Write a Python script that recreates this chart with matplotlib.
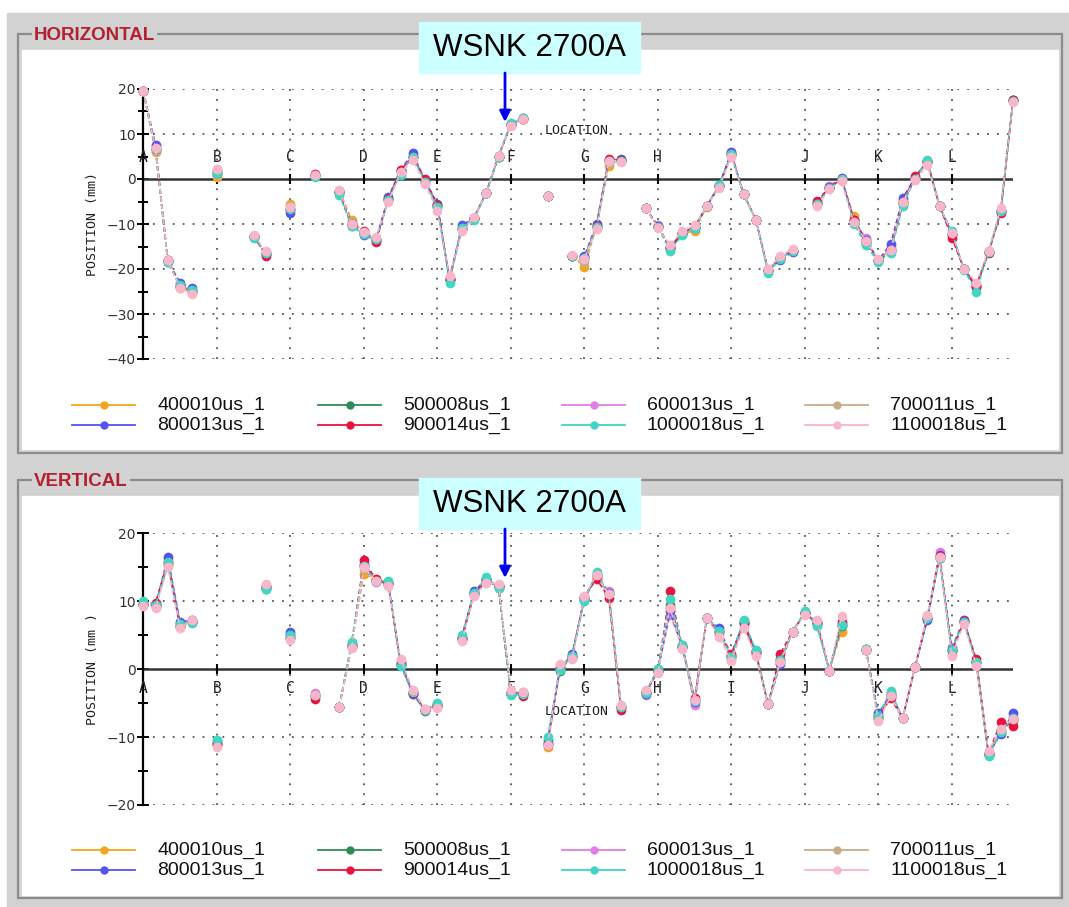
import numpy as np
import matplotlib
matplotlib.use('Agg')
import matplotlib.pyplot as plt
from matplotlib.patches import Rectangle

W, H = 1069, 907

names = ['400010us_1', '500008us_1', '600013us_1', '700011us_1',
         '800013us_1', '900014us_1', '1000018us_1', '1100018us_1']
colors = ['#f2a51c', '#2e8b57', '#e07ee6', '#c9ab88',
          '#5454ee', '#e8143f', '#3fd6c2', '#f7b6c9']
letters = list('ABCDEFGHIJKL')
n_slot = 72          # monitor positions, 6 between two letters

# ---- HORIZONTAL : positions where a reading exists ----
h_slot = [0, 1, 2, 3, 4, 6, 9, 10, 12, 14, 16, 17, 18, 19, 20, 21, 22, 23, 24, 25,
          26, 27, 28, 29, 30, 31, 33, 35, 36, 37, 38, 39, 41, 42, 43, 44, 45, 46, 47,
          48, 49, 50, 51, 52, 53, 55, 56, 57, 58, 59, 60, 61, 62, 63, 64, 65, 66, 67,
          68, 69, 70, 71]
h_400010 = [19.5, 6.0, -18.0, -24.2, -25.0, 0.5, -12.8, -16.5, -5.5, 1.0, -2.6, -9.0, -12.0,
            -13.5, -4.6, 1.8, 4.8, -0.6, -6.0, -22.2, -11.0, -8.6, -3.1, 5.0, 12.0, 13.3,
            -3.7, -17.0, -19.5, -10.6, 3.0, 4.0, -6.5, -10.5, -15.0, -12.3, -11.5, -6.2,
            -1.6, 5.4, -3.3, -9.0, -20.2, -17.5, -16.0, -5.5, -2.0, 0.0, -8.3, -13.9, -18.0,
            -15.5, -5.0, 0.2, 3.8, -6.0, -12.2, -20.0, -23.6, -16.2, -7.0, 17.5]
h_500008 = [19.5, 6.6, -18.4, -23.8, -24.8, 1.2, -12.9, -16.6, -6.6, 0.7, -3.2, -10.4, -12.3,
            -13.6, -4.5, 1.5, 5.0, -0.4, -6.0, -22.5, -11.0, -8.8, -3.0, 5.0, 12.3, 13.5,
            -3.8, -17.0, -17.8, -10.6, 4.1, 4.0, -6.5, -10.6, -15.6, -12.3, -10.6, -6.1,
            -1.4, 5.5, -3.3, -9.0, -20.5, -17.6, -16.0, -5.4, -2.0, 0.0, -9.6, -14.5, -18.3,
            -16.0, -5.6, 0.1, 4.1, -6.0, -12.2, -20.1, -24.2, -16.2, -7.0, 17.5]
h_600013 = [19.5, 7.3, -18.2, -23.5, -24.6, 1.5, -12.6, -16.5, -7.0, 0.9, -2.8, -10.0, -12.2,
            -13.4, -4.2, 1.8, 5.3, -0.5, -5.8, -22.0, -10.6, -8.6, -3.0, 5.1, 12.1, 13.4,
            -3.8, -17.1, -17.4, -10.3, 4.2, 4.3, -6.4, -10.3, -15.2, -12.0, -10.6, -6.0,
            -1.5, 5.9, -3.4, -9.0, -20.2, -17.6, -16.0, -5.3, -1.5, 0.2, -9.2, -13.2, -18.0,
            -15.0, -4.6, 0.2, 3.9, -6.0, -12.3, -20.0, -23.8, -16.1, -7.0, 17.5]
h_700011 = [19.5, 6.2, -18.0, -24.0, -25.0, 1.0, -12.7, -16.4, -6.0, 1.0, -2.6, -9.6, -12.0,
            -13.3, -4.5, 1.7, 4.8, -0.7, -6.3, -22.0, -11.2, -8.6, -3.0, 5.1, 12.0, 13.4,
            -3.8, -17.0, -18.5, -10.8, 3.5, 4.0, -6.4, -10.6, -15.0, -12.0, -11.0, -6.0,
            -1.7, 5.3, -3.3, -9.0, -20.1, -17.4, -15.8, -5.6, -2.1, -0.2, -8.8, -13.8, -17.9,
            -15.6, -5.0, 0.1, 3.6, -6.0, -12.2, -20.0, -23.5, -16.1, -6.8, 17.3]
h_800013 = [19.5, 7.5, -18.2, -23.0, -24.3, 1.4, -12.6, -16.6, -7.5, 0.9, -2.8, -10.0, -12.5,
            -13.5, -4.0, 2.0, 5.8, -0.3, -5.5, -22.4, -10.3, -8.6, -3.0, 5.1, 12.2, 13.5,
            -3.8, -17.2, -17.2, -10.0, 4.3, 4.5, -6.4, -10.4, -15.3, -12.0, -10.8, -6.0,
            -1.5, 6.0, -3.4, -9.0, -20.3, -18.0, -16.2, -5.3, -1.8, 0.3, -9.0, -13.6, -18.0,
            -14.5, -4.2, 0.3, 3.9, -6.0, -12.4, -20.0, -23.8, -16.3, -7.1, 17.5]
h_900014 = [19.5, 6.6, -18.1, -23.8, -24.8, 2.0, -12.6, -17.0, -6.6, 1.2, -2.6, -10.0, -11.5,
            -14.0, -4.5, 2.0, 5.0, 0.0, -5.8, -22.2, -11.0, -8.6, -3.0, 5.0, 12.1, 13.4,
            -3.8, -17.0, -17.6, -10.5, 4.5, 4.2, -6.4, -10.6, -15.1, -12.1, -10.6, -6.0,
            -1.6, 5.5, -3.3, -9.0, -20.2, -17.5, -15.9, -4.8, -2.0, 0.0, -9.1, -13.9, -18.0,
            -15.7, -5.1, 0.6, 3.8, -6.0, -13.0, -20.1, -23.7, -16.5, -7.5, 17.5]
h_1000018 = [19.5, 6.6, -18.5, -23.5, -24.7, 1.3, -13.0, -16.4, -6.7, 0.5, -3.5, -10.5, -12.3,
             -13.4, -4.6, 1.0, 4.8, -0.6, -6.2, -23.0, -10.8, -9.0, -3.1, 5.0, 12.5, 13.6,
             -3.8, -17.2, -17.6, -10.6, 4.0, 4.1, -6.5, -10.7, -16.0, -12.5, -10.8, -6.1,
             -1.3, 5.5, -3.4, -9.1, -20.8, -17.8, -16.0, -5.6, -2.1, -0.1, -10.0, -14.7, -18.5,
             -16.5, -6.0, 0.0, 4.3, -6.1, -11.5, -20.2, -25.0, -16.2, -7.0, 17.4]
h_1100018 = [19.5, 6.8, -18.0, -24.3, -25.5, 2.3, -12.5, -16.0, -6.2, 1.0, -2.5, -10.0, -11.8,
             -12.8, -5.0, 1.5, 4.2, -1.2, -7.0, -21.5, -11.5, -8.5, -3.0, 5.2, 11.8, 13.4,
             -3.8, -16.8, -17.8, -11.0, 4.0, 3.8, -6.4, -10.8, -14.7, -11.5, -10.3, -6.0,
             -2.0, 5.0, -3.3, -9.0, -20.0, -17.2, -15.5, -6.0, -2.3, -0.5, -9.5, -13.8, -17.8,
             -15.8, -5.0, -0.2, 3.1, -6.0, -12.0, -20.0, -23.0, -16.0, -6.5, 17.0]

# ---- VERTICAL ----
v_slot = [0, 1, 2, 3, 4, 6, 10, 12, 14, 16, 17, 18, 19, 20, 21, 22, 23, 24, 26, 27, 28, 29,
          30, 31, 33, 34, 35, 36, 37, 38, 39, 41, 42, 43, 44, 45, 46, 47, 48, 49, 50, 51, 52,
          53, 54, 55, 56, 57, 59, 60, 61, 62, 63, 64, 65, 66, 67, 68, 69, 70, 71]
v_400010 = [9.5, 9.4, 15.4, 6.4, 7.0, -11.0, 12.2, 4.8, -4.0, -5.5, 3.4, 14.0, 13.2, 12.5, 1.0,
            -3.4, -6.0, -5.4, 4.4, 11.0, 13.0, 12.2, -3.5, -3.6, -11.5, 0.0, 1.8, 10.4, 13.6,
            11.0, -5.6, -3.4, -0.2, 9.0, 3.4, -4.6, 7.5, 5.4, 2.0, 6.8, 2.5, -5.2, 1.4, 5.5,
            8.2, 6.8, -0.2, 5.5, 3.0, -7.0, -4.0, -7.2, 0.3, 7.6, 16.4, 2.6, 7.0, 1.0, -12.5,
            -9.0, -7.6]
v_500008 = [9.8, 9.5, 15.6, 6.5, 7.0, -10.6, 11.8, 5.0, -4.0, -5.5, 3.8, 15.2, 13.0, 12.8, 0.6,
            -3.5, -6.2, -5.3, 4.8, 11.2, 13.3, 12.0, -3.7, -3.6, -10.5, -0.3, 2.0, 10.2, 14.0,
            11.0, -5.6, -3.5, 0.0, 9.5, 3.5, -4.6, 7.5, 5.6, 2.0, 7.1, 2.7, -5.2, 1.5, 5.5,
            8.4, 6.5, -0.2, 6.4, 2.9, -6.9, -3.5, -7.2, 0.3, 7.4, 16.3, 2.8, 7.0, 1.0, -12.7,
            -9.2, -7.5]
v_600013 = [9.6, 9.3, 16.2, 6.8, 7.1, -10.8, 12.0, 5.2, -3.5, -5.5, 3.6, 15.6, 12.8, 12.6, 0.8,
            -3.6, -6.0, -5.3, 4.6, 11.3, 13.2, 12.2, -3.6, -3.5, -10.8, 0.2, 2.0, 10.5, 13.8,
            11.5, -5.5, -3.8, -0.3, 8.0, 3.3, -5.3, 7.6, 5.8, 1.8, 6.8, 2.5, -5.2, 1.0, 5.5,
            8.2, 6.8, -0.2, 6.8, 2.8, -6.7, -3.8, -7.2, 0.3, 7.4, 17.3, 3.2, 7.3, 1.0, -12.5,
            -9.0, -7.0]
v_700011 = [9.5, 9.2, 15.3, 6.3, 7.2, -11.0, 12.3, 4.6, -3.8, -5.5, 3.3, 14.8, 13.0, 12.4, 1.2,
            -3.2, -5.9, -5.6, 4.3, 11.0, 12.8, 12.3, -3.3, -3.4, -11.0, 0.5, 1.7, 10.6, 13.7,
            11.0, -5.4, -3.2, -0.4, 9.0, 3.2, -4.6, 7.6, 5.0, 1.5, 6.4, 2.2, -5.2, 1.1, 5.5,
            8.1, 7.0, -0.2, 6.5, 2.9, -7.3, -4.0, -7.2, 0.3, 7.8, 16.5, 2.3, 6.9, 0.8, -12.3,
            -8.9, -7.4]
v_800013 = [9.6, 9.4, 16.5, 7.0, 7.2, -10.8, 12.0, 5.5, -3.8, -5.5, 3.6, 15.4, 13.0, 12.8, 0.8,
            -3.7, -6.0, -5.2, 4.6, 11.5, 13.2, 12.2, -3.6, -3.5, -10.8, 0.0, 2.2, 10.4, 13.7,
            11.2, -5.6, -3.6, -0.2, 8.5, 3.3, -4.8, 7.5, 6.0, 2.0, 6.8, 2.6, -5.2, 0.7, 5.5,
            8.3, 6.8, -0.2, 6.5, 2.8, -6.5, -3.8, -7.2, 0.3, 7.2, 16.8, 3.0, 7.2, 1.0, -12.6,
            -9.5, -6.5]
v_900014 = [9.5, 9.8, 15.8, 6.2, 7.0, -11.2, 12.3, 4.6, -4.4, -5.5, 3.3, 16.0, 13.2, 12.6, 0.8,
            -3.5, -6.0, -5.4, 4.4, 11.1, 13.0, 12.2, -3.4, -4.0, -11.2, 0.2, 1.8, 10.6, 13.3,
            10.5, -6.0, -3.4, -0.3, 11.5, 3.3, -4.2, 7.6, 5.4, 2.3, 6.8, 2.4, -5.2, 2.3, 5.5,
            8.2, 7.0, -0.2, 7.0, 2.8, -7.2, -4.3, -7.2, 0.3, 7.6, 16.6, 2.6, 7.1, 1.5, -12.4,
            -7.8, -8.3]
v_1000018 = [10.0, 9.4, 15.8, 6.6, 6.8, -10.4, 11.8, 5.0, -3.8, -5.5, 4.0, 15.2, 13.0, 13.0, 0.5,
             -3.4, -6.0, -5.0, 5.0, 11.2, 13.5, 12.0, -3.8, -3.6, -10.0, -0.1, 1.9, 10.0, 14.3,
             11.0, -5.6, -3.5, 0.0, 10.3, 3.5, -4.7, 7.6, 5.6, 1.8, 7.3, 2.8, -5.2, 1.4, 5.5,
             8.5, 6.3, -0.2, 6.5, 2.9, -6.9, -3.2, -7.2, 0.3, 7.5, 16.3, 2.8, 7.0, 1.0, -12.8,
             -9.2, -7.2]
v_1100018 = [9.3, 9.0, 15.0, 6.0, 7.3, -11.4, 12.6, 4.3, -3.8, -5.5, 3.1, 15.0, 13.0, 12.3, 1.5,
             -3.0, -5.8, -5.7, 4.1, 10.8, 12.7, 12.5, -3.0, -3.3, -11.2, 0.7, 1.5, 10.7, 13.8,
             11.0, -5.3, -3.0, -0.6, 9.0, 3.0, -4.5, 7.6, 4.8, 1.2, 6.0, 2.0, -5.2, 1.0, 5.5,
             8.0, 7.3, -0.2, 7.8, 2.8, -7.7, -4.0, -7.2, 0.3, 8.0, 16.5, 2.0, 6.7, 0.5, -12.0,
             -8.8, -7.3]

h_series = [h_400010, h_500008, h_600013, h_700011, h_800013, h_900014, h_1000018, h_1100018]
v_series = [v_400010, v_500008, v_600013, v_700011, v_800013, v_900014, v_1000018, v_1100018]

GRAY = '#d2d2d2'
MONO = 'DejaVu Sans Mono'


def full(slots, vals):
    a = np.full(n_slot, np.nan)
    a[slots] = vals
    return a


def px_axes(fig, z):
    a = fig.add_axes([0, 0, 1, 1], zorder=z)
    a.set_xlim(0, W)
    a.set_ylim(H, 0)
    a.axis('off')
    a.patch.set_alpha(0)
    return a


def style(ax, ymin, ymax, ylabel, letter_y, loc_y):
    ax.set_xlim(0, n_slot - 1)
    ax.set_ylim(ymin, ymax)
    ax.patch.set_alpha(0)
    for s in ['top', 'right', 'bottom']:
        ax.spines[s].set_visible(False)
    ax.spines['left'].set_linewidth(1.6)
    ax.set_xticks([])
    ax.set_yticks(range(ymin, ymax + 1, 10))
    ax.set_yticks(range(ymin, ymax + 1, 5), minor=True)
    ax.tick_params(axis='y', which='major', direction='inout', length=9, width=1.4,
                   labelsize=10, labelcolor='#333333', pad=1)
    ax.tick_params(axis='y', which='minor', direction='inout', length=7, width=1.4)
    for yv in range(ymin, ymax + 1, 10):
        if yv != 0:
            ax.axhline(yv, color='#555555', lw=1.3, ls=(0, (1, 4.5)), zorder=1)
    lx = [6 * i for i in range(len(letters))]
    for x in lx[1:]:
        ax.axvline(x, color='#555555', lw=1.3, ls=(0, (1, 4.5)), zorder=1)
    ax.axhline(0, color='#333333', lw=1.8, zorder=2)
    ax.plot(lx, [0] * len(lx), ls='none', marker='|', ms=7, mew=1.5, color='black', zorder=2)
    for x, l in zip(lx, letters):
        ax.text(x, letter_y, l, ha='center', va='center', family=MONO, fontsize=10.5,
                color='#222222')
    ax.text(35.4, loc_y, 'LOCATION', ha='center', va='center', family=MONO, fontsize=9.5,
            color='#222222')
    ax.set_ylabel(ylabel, family=MONO, fontsize=9.5, color='#222222')
    ax.yaxis.set_label_coords(-0.051, 0.5)


def draw(ax, slots, series):
    x = np.arange(n_slot)
    for vals, c in zip(series, colors):
        ax.plot(x, full(slots, vals), color=c, lw=1.1, ls=(0, (3, 2)), marker='o', ms=7,
                mew=0, clip_on=False, zorder=3)


def legend(fg, y0):
    cols = [72, 318, 562, 805]
    for k, (n, c) in enumerate(zip(names, colors)):
        x0 = cols[k % 4]
        y = y0 + 20 * (k // 4)
        fg.plot([x0, x0 + 63], [y, y], color=c, lw=1.3)
        fg.plot([x0 + 32], [y], 'o', color=c, ms=6, mew=0)
        fg.text(x0 + 85, y, n, va='center', ha='left', family='Liberation Sans', fontsize=14,
                color='#111111')


fig = plt.figure(figsize=(W / 100, H / 100), dpi=100)
fig.patch.set_facecolor('white')
bg = px_axes(fig, 0)
fg = px_axes(fig, 10)

bg.add_patch(Rectangle((7, 13), W - 7, H - 13, color=GRAY))
for top, title in [(34, 'HORIZONTAL'), (480, 'VERTICAL')]:
    bg.add_patch(Rectangle((18, top), 1044, 419 if top == 34 else 418, fill=False,
                           ec='#8c8c8c', lw=1.6))
    bg.add_patch(Rectangle((22, top + 16), 1036, 399, color='white'))
    bg.text(34, top + 1, title, ha='left', va='center', color='#b32030', fontsize=13.5,
            fontweight='bold', family='Liberation Sans',
            bbox=dict(fc=GRAY, ec='none', pad=1.5))

ax_h = fig.add_axes([143.3 / W, 1 - 359 / H, 869.7 / W, 270 / H], zorder=5)
style(ax_h, -40, 20, 'POSITION (mm)', 4.7, 10.7)
draw(ax_h, h_slot, h_series)

ax_v = fig.add_axes([143.3 / W, 1 - 805 / H, 869.7 / W, 271.7 / H], zorder=5)
style(ax_v, -20, 20, 'POSITION (mm )', -2.8, -6.3)
draw(ax_v, v_slot, v_series)

legend(fg, 405)
legend(fg, 850)

for ytop in [22, 478]:
    fg.add_patch(Rectangle((419, ytop), 221, 51, color='#ccffff'))
    fg.text(529.5, ytop + 26, 'WSNK 2700A', ha='center', va='center', family='Liberation Sans',
            fontsize=22.5, color='black')
    fg.annotate('', xy=(505, ytop + 100), xytext=(505, ytop + 51),
                arrowprops=dict(arrowstyle='-|>', color='#0000ee', lw=2, mutation_scale=16,
                                shrinkA=0, shrinkB=0))

fig.savefig('out.png', dpi=100)
